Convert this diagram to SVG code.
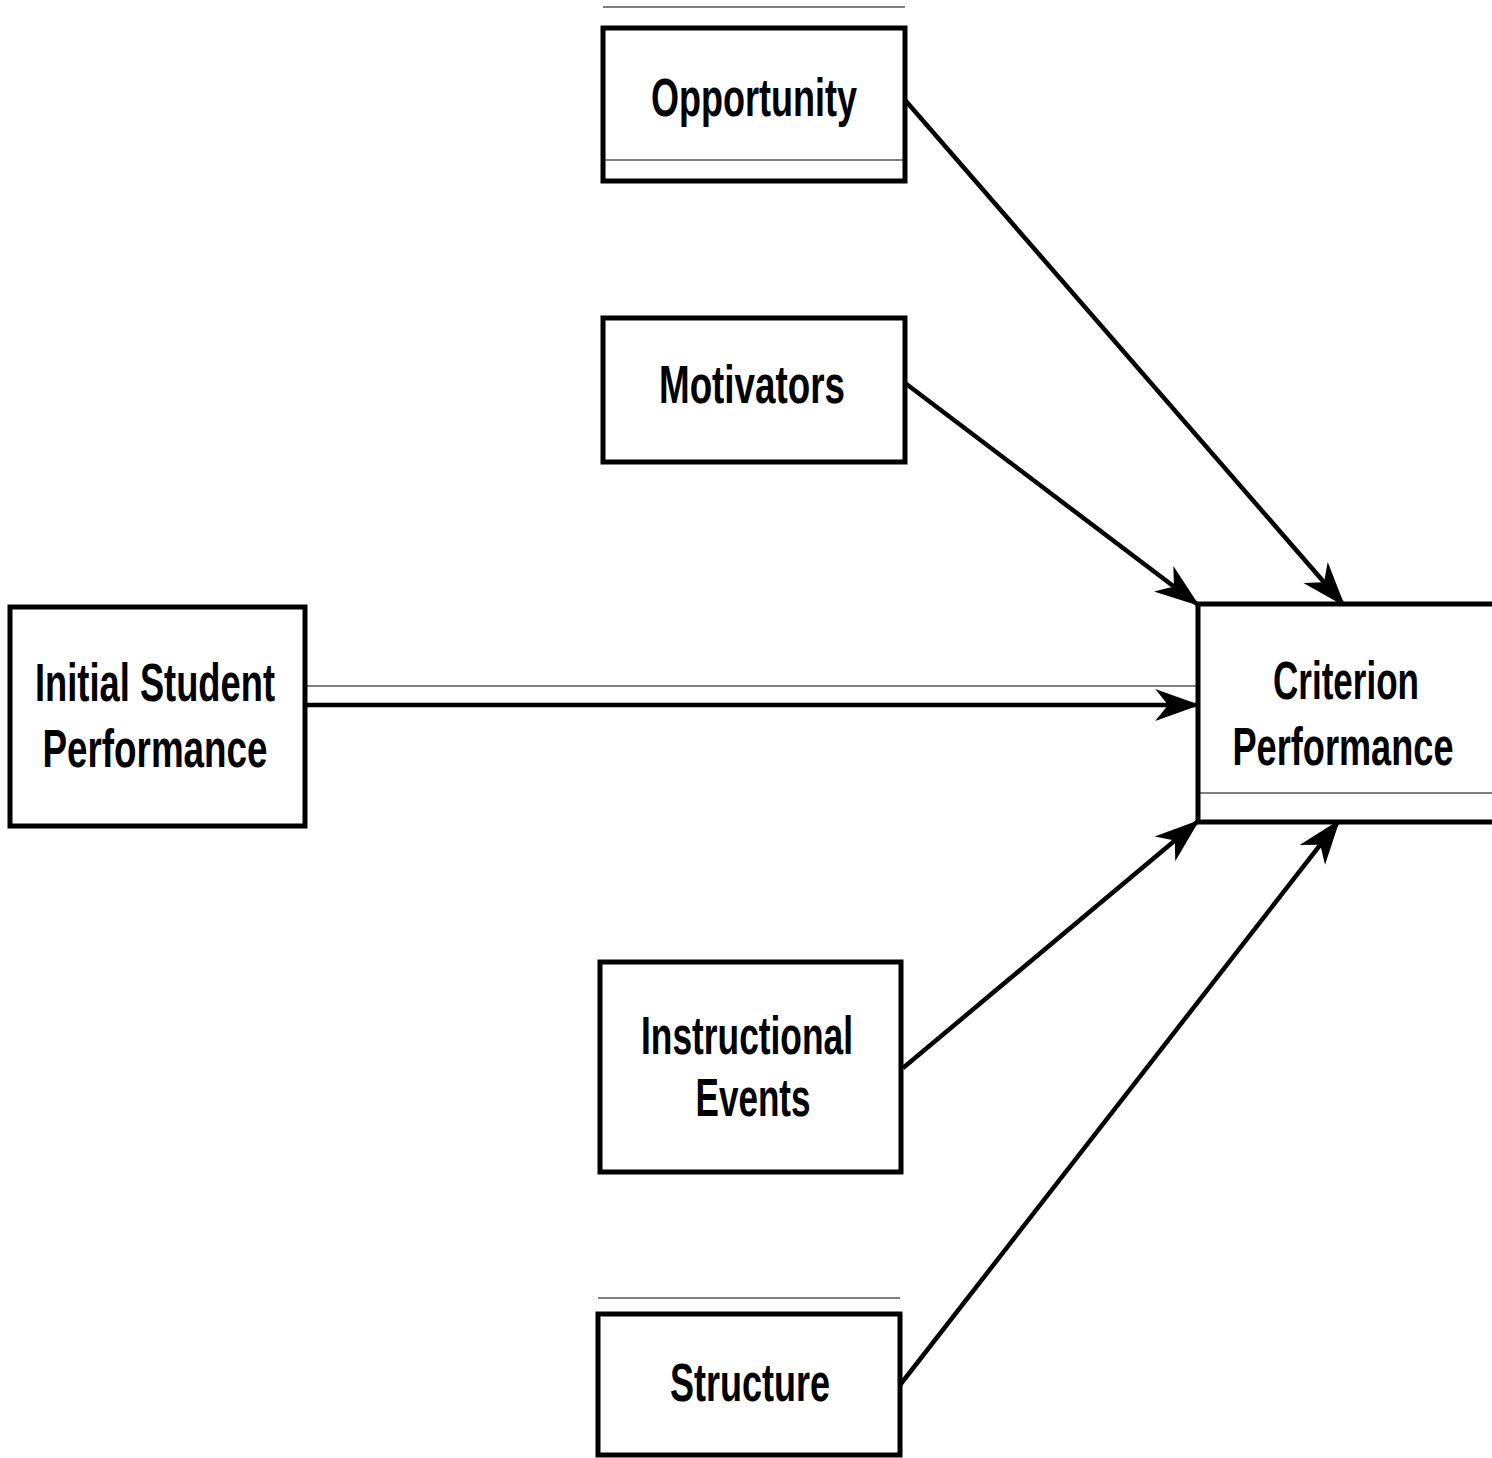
<svg xmlns="http://www.w3.org/2000/svg" width="1492" height="1458" viewBox="0 0 1492 1458">
<style>
.box{fill:#fff;stroke:#000;stroke-width:5}
.lbl{font-family:"Liberation Sans",Arial,sans-serif;font-weight:700;font-size:54px;fill:#000;text-anchor:middle}
.edge{stroke:#000;stroke-width:4.5;fill:none}
.thin{stroke:#000;stroke-width:1.2;fill:none}
</style>
<defs>
<marker id="ah" viewBox="0 0 14 10" refX="13" refY="5" markerWidth="10" markerHeight="8" markerUnits="strokeWidth" orient="auto">
<path d="M0,0 L14,5 L0,10 L4,5 z" fill="#000"/>
</marker>
</defs>
<rect width="1492" height="1458" fill="#fff"/>
<g id="connectors">
<line class="edge" x1="905" y1="100" x2="1343" y2="604" marker-end="url(#ah)"/>
<line class="edge" x1="905" y1="383" x2="1197" y2="604" marker-end="url(#ah)"/>
<line class="edge" x1="307" y1="705" x2="1197" y2="705" marker-end="url(#ah)"/>
<line class="edge" x1="903" y1="1068" x2="1197" y2="822" marker-end="url(#ah)"/>
<line class="edge" x1="900" y1="1385" x2="1338" y2="822" marker-end="url(#ah)"/>
</g>
<g id="opportunity">
<rect class="box" x="603" y="28" width="302" height="153"/>
<text class="lbl" x="754" y="116" textLength="206" lengthAdjust="spacingAndGlyphs">Opportunity</text>
</g>
<g id="motivators">
<rect class="box" x="603" y="318" width="302" height="144"/>
<text class="lbl" x="752" y="403" textLength="186" lengthAdjust="spacingAndGlyphs">Motivators</text>
</g>
<g id="initial">
<rect class="box" x="10" y="607" width="295" height="219"/>
<text class="lbl" x="155" y="701" textLength="240" lengthAdjust="spacingAndGlyphs">Initial Student</text>
<text class="lbl" x="155" y="767" textLength="225" lengthAdjust="spacingAndGlyphs">Performance</text>
</g>
<g id="criterion">
<rect x="1198" y="604" width="294" height="218" fill="#fff"/>
<path d="M1492,604 H1198 V822 H1492" fill="none" stroke="#000" stroke-width="5"/>
<text class="lbl" x="1346" y="699" textLength="146" lengthAdjust="spacingAndGlyphs">Criterion</text>
<text class="lbl" x="1343" y="765" textLength="221" lengthAdjust="spacingAndGlyphs">Performance</text>
</g>
<g id="instructional">
<rect class="box" x="600" y="962" width="301" height="210"/>
<text class="lbl" x="747" y="1054" textLength="212" lengthAdjust="spacingAndGlyphs">Instructional</text>
<text class="lbl" x="753" y="1116" textLength="115" lengthAdjust="spacingAndGlyphs">Events</text>
</g>
<g id="structure">
<rect class="box" x="598" y="1314" width="302" height="141"/>
<text class="lbl" x="750" y="1401" textLength="160" lengthAdjust="spacingAndGlyphs">Structure</text>
</g>
<g id="artifacts">
<line class="thin" x1="603" y1="7" x2="905" y2="7"/>
<line class="thin" x1="605" y1="160" x2="903" y2="160"/>
<line class="thin" x1="307" y1="686" x2="1197" y2="686"/>
<line class="thin" x1="1200" y1="793" x2="1492" y2="793"/>
<line class="thin" x1="598" y1="1298" x2="900" y2="1298"/>
</g>
</svg>
